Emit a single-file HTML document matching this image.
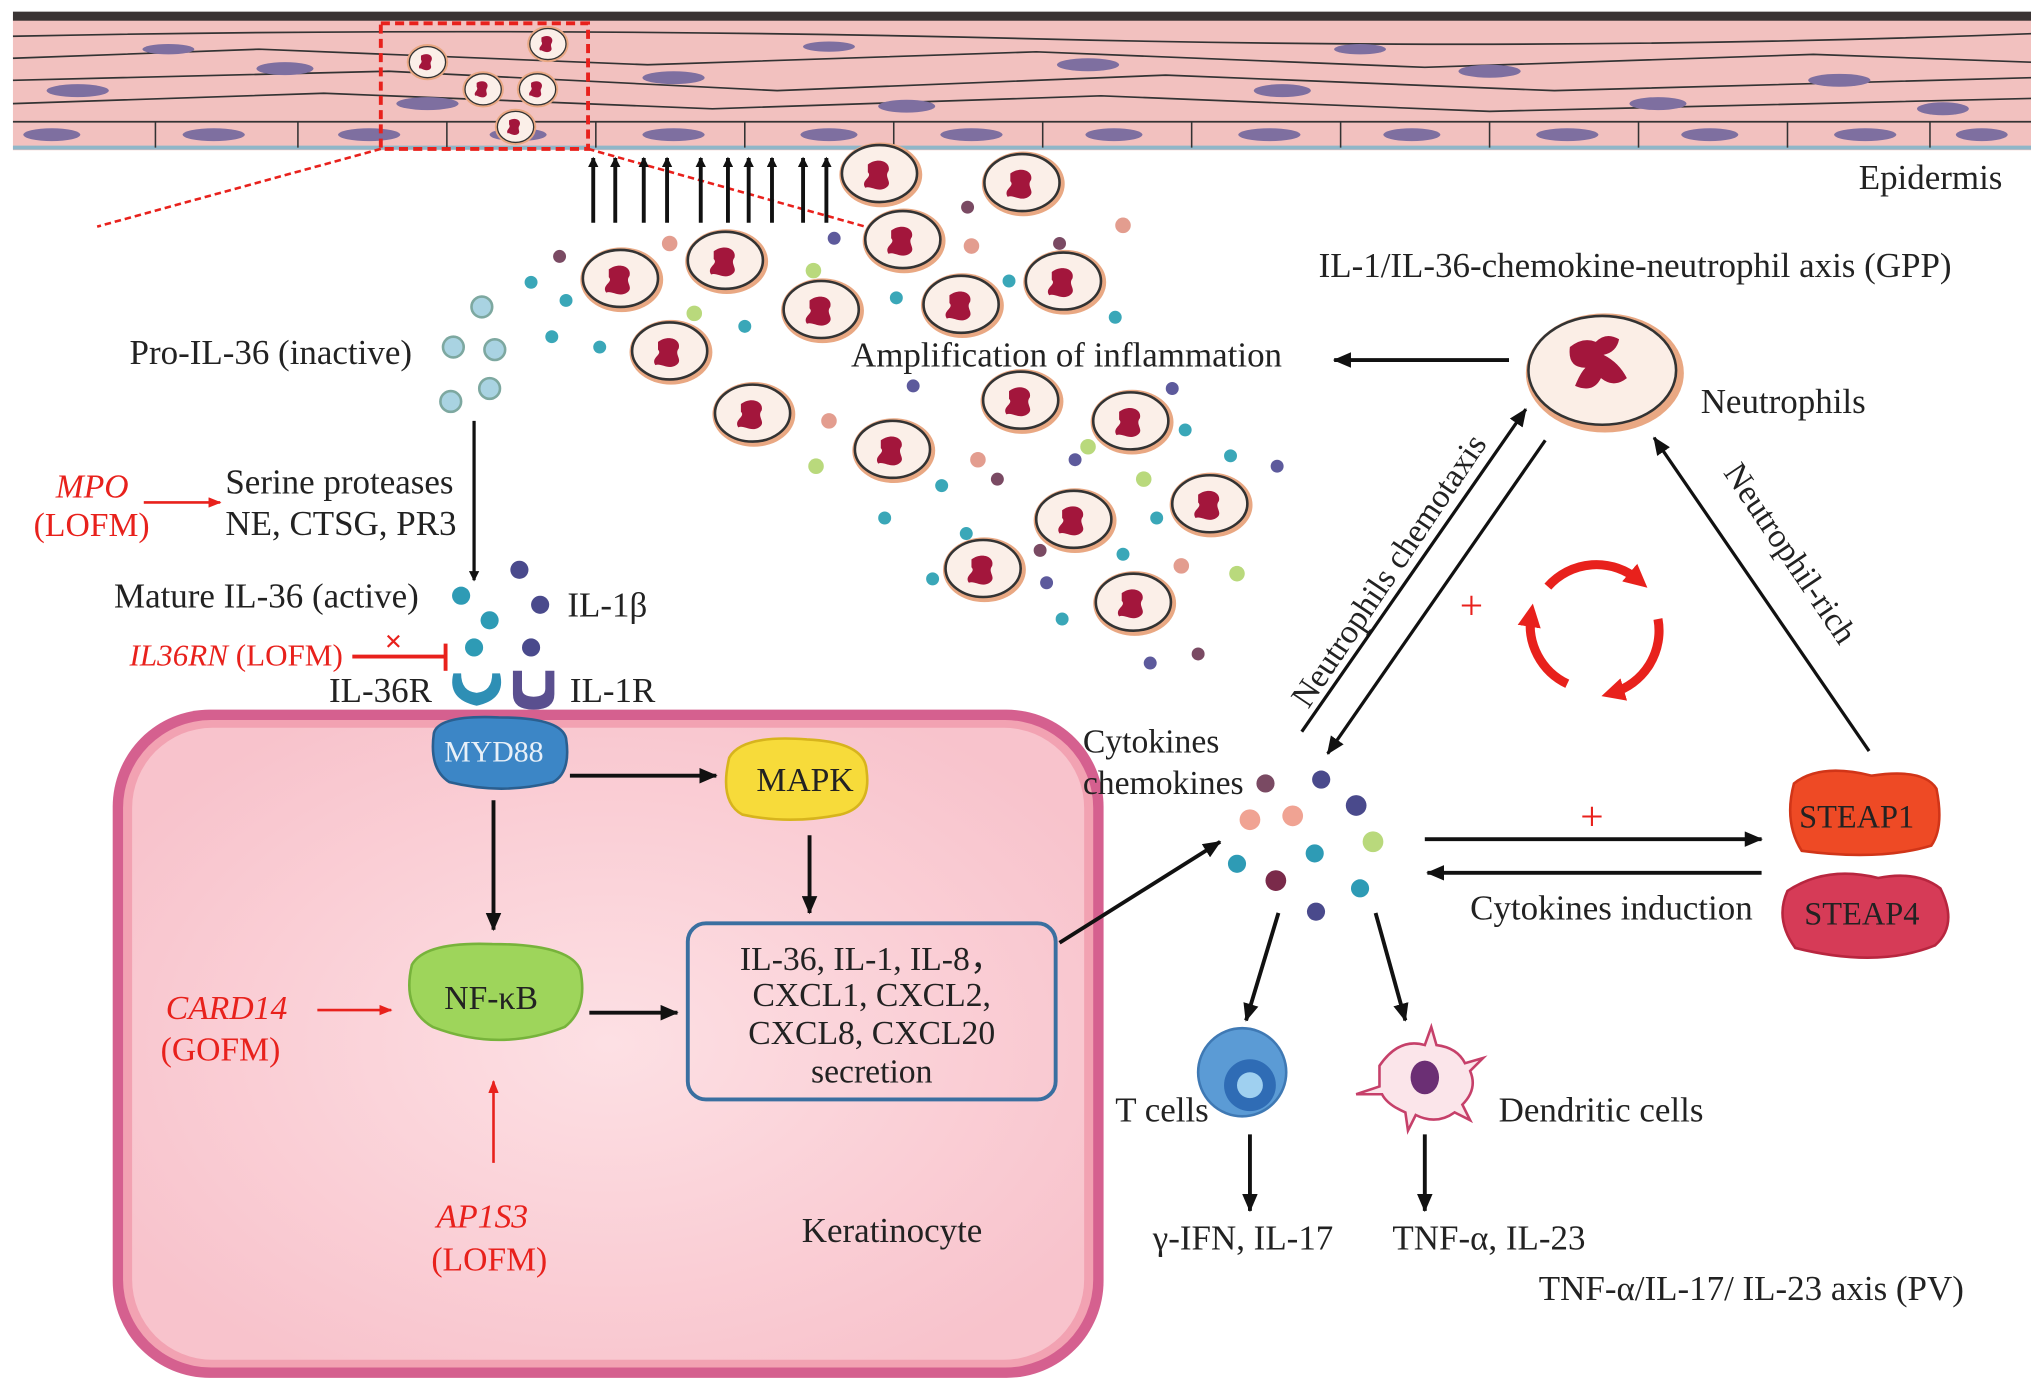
<!DOCTYPE html>
<html><head><meta charset="utf-8"><style>
html,body{margin:0;padding:0;background:#fff;}
svg{display:block;}
text{font-family:"Liberation Serif",serif;fill:#222;}
.r{fill:#e8211c;}
</style></head><body>
<svg width="2031" height="1396" viewBox="0 0 1568 1078" preserveAspectRatio="none" xmlns="http://www.w3.org/2000/svg">
<defs>
<marker id="ah" markerWidth="8" markerHeight="8" refX="7" refY="4" orient="auto" markerUnits="userSpaceOnUse"><path d="M0,0 L8,4 L0,8 z" fill="#111"/></marker>
<marker id="ahb" markerWidth="14" markerHeight="12" refX="13" refY="6" orient="auto" markerUnits="userSpaceOnUse"><path d="M0,0 L14,6 L0,12 z" fill="#111"/></marker>
<marker id="ahr" markerWidth="10" markerHeight="8" refX="9" refY="4" orient="auto" markerUnits="userSpaceOnUse"><path d="M0,0 L10,4 L0,8 z" fill="#e8211c"/></marker>
<marker id="ahr2" markerWidth="18" markerHeight="18" refX="9" refY="9" orient="auto" markerUnits="userSpaceOnUse"><path d="M0,0 L18,9 L0,18 z" fill="#e8211c"/></marker>
<g id="neu"><ellipse cx="0" cy="0" rx="32" ry="25" fill="#e9a883"/><ellipse cx="-1" cy="-1" rx="29" ry="22" fill="#fbefe8" stroke="#333" stroke-width="2"/><path d="M-10,-8 C-2,-14 8,-10 6,-3 C2,2 10,6 4,10 C-2,14 -8,8 -12,10 C-16,4 -6,2 -10,-2 Z" fill="#a3163c"/></g>
<g id="neus"><ellipse cx="0" cy="0" rx="16" ry="14" fill="#e9a883"/><ellipse cx="0" cy="0" rx="14" ry="12" fill="#fbefe8" stroke="#333" stroke-width="1"/><path d="M-5,-5 C0,-8 5,-5 3,-1 C1,2 5,4 1,6 C-3,7 -5,4 -6,5 C-8,2 -3,1 -5,-2 Z" fill="#a3163c"/></g>
<radialGradient id="gk" cx="50%" cy="50%" r="60%"><stop offset="0" stop-color="#fde0e4"/><stop offset="1" stop-color="#f8c3cc"/></radialGradient>
</defs>

<rect x="10" y="12" width="1558" height="104" fill="#f2c1bf"/>
<rect x="10" y="9" width="1558" height="7" fill="#3a3434"/>
<g stroke="#333" stroke-width="1.3" fill="none">
<path d="M10,28 Q400,20 800,30 T1568,26"/>
<path d="M10,45 L200,38 L500,50 L800,40 L1100,52 L1400,42 L1568,48"/>
<path d="M10,62 L300,55 L600,70 L900,58 L1200,70 L1568,60"/>
<path d="M10,80 L250,72 L550,84 L850,74 L1150,86 L1568,76"/>
<path d="M10,94 L1568,94"/>
<path d="M10,114 L1568,114" stroke="#8fb6c8" stroke-width="3"/>
</g>
<g stroke="#333" stroke-width="1.2">
<line x1="120" y1="94" x2="120" y2="114"/><line x1="230" y1="94" x2="230" y2="114"/><line x1="345" y1="94" x2="345" y2="114"/><line x1="460" y1="94" x2="460" y2="114"/><line x1="575" y1="94" x2="575" y2="114"/><line x1="690" y1="94" x2="690" y2="114"/><line x1="805" y1="94" x2="805" y2="114"/><line x1="920" y1="94" x2="920" y2="114"/><line x1="1035" y1="94" x2="1035" y2="114"/><line x1="1150" y1="94" x2="1150" y2="114"/><line x1="1265" y1="94" x2="1265" y2="114"/><line x1="1380" y1="94" x2="1380" y2="114"/><line x1="1490" y1="94" x2="1490" y2="114"/>
</g>
<g fill="#7e6fa0">
<ellipse cx="40" cy="104" rx="22" ry="5"/><ellipse cx="165" cy="104" rx="24" ry="5"/><ellipse cx="285" cy="104" rx="24" ry="5"/><ellipse cx="400" cy="104" rx="22" ry="5"/><ellipse cx="520" cy="104" rx="24" ry="5"/><ellipse cx="640" cy="104" rx="22" ry="5"/><ellipse cx="750" cy="104" rx="24" ry="5"/><ellipse cx="860" cy="104" rx="22" ry="5"/><ellipse cx="980" cy="104" rx="24" ry="5"/><ellipse cx="1090" cy="104" rx="22" ry="5"/><ellipse cx="1210" cy="104" rx="24" ry="5"/><ellipse cx="1320" cy="104" rx="22" ry="5"/><ellipse cx="1440" cy="104" rx="24" ry="5"/><ellipse cx="1530" cy="104" rx="20" ry="5"/>
<ellipse cx="60" cy="70" rx="24" ry="5"/><ellipse cx="220" cy="53" rx="22" ry="5"/><ellipse cx="330" cy="80" rx="24" ry="5"/><ellipse cx="520" cy="60" rx="24" ry="5"/><ellipse cx="700" cy="82" rx="22" ry="5"/><ellipse cx="840" cy="50" rx="24" ry="5"/><ellipse cx="990" cy="70" rx="22" ry="5"/><ellipse cx="1150" cy="55" rx="24" ry="5"/><ellipse cx="1280" cy="80" rx="22" ry="5"/><ellipse cx="1420" cy="62" rx="24" ry="5"/><ellipse cx="130" cy="38" rx="20" ry="4"/><ellipse cx="640" cy="36" rx="20" ry="4"/><ellipse cx="1050" cy="38" rx="20" ry="4"/><ellipse cx="1500" cy="84" rx="20" ry="5"/>
</g>
<rect x="294" y="18" width="160" height="97" fill="none" stroke="#e8211c" stroke-width="3" stroke-dasharray="7,4"/>
<use href="#neus" x="330" y="48"/><use href="#neus" x="423" y="34"/><use href="#neus" x="373" y="69"/><use href="#neus" x="415" y="69"/><use href="#neus" x="398" y="98"/>
<line x1="294" y1="115" x2="75" y2="175" stroke="#e8211c" stroke-width="2" stroke-dasharray="5,3"/>
<line x1="454" y1="115" x2="668" y2="175" stroke="#e8211c" stroke-width="2" stroke-dasharray="5,3"/>
<text x="1435" y="146" font-size="27">Epidermis</text>

<g stroke="#111" stroke-width="3" marker-end="url(#ah)">
<line x1="458" y1="172" x2="458" y2="122"/><line x1="475" y1="172" x2="475" y2="122"/><line x1="497" y1="172" x2="497" y2="122"/><line x1="515" y1="172" x2="515" y2="122"/><line x1="541" y1="172" x2="541" y2="122"/><line x1="562" y1="172" x2="562" y2="122"/><line x1="578" y1="172" x2="578" y2="122"/><line x1="596" y1="172" x2="596" y2="122"/><line x1="620" y1="172" x2="620" y2="122"/><line x1="638" y1="172" x2="638" y2="122"/>
</g>

<use href="#neu" x="680" y="135"/><use href="#neu" x="790" y="142"/><use href="#neu" x="698" y="186"/><use href="#neu" x="480" y="216"/><use href="#neu" x="561" y="202"/><use href="#neu" x="635" y="240"/><use href="#neu" x="743" y="236"/><use href="#neu" x="822" y="218"/><use href="#neu" x="518" y="272"/><use href="#neu" x="582" y="320"/><use href="#neu" x="690" y="348"/><use href="#neu" x="789" y="310"/><use href="#neu" x="874" y="326"/><use href="#neu" x="935" y="390"/><use href="#neu" x="830" y="402"/><use href="#neu" x="760" y="440"/><use href="#neu" x="876" y="466"/>

<g>
<circle cx="432" cy="198" r="5" fill="#7a4a63"/><circle cx="410" cy="218" r="5" fill="#3aa7b8"/><circle cx="437" cy="232" r="5" fill="#3aa7b8"/><circle cx="426" cy="260" r="5" fill="#3aa7b8"/><circle cx="463" cy="268" r="5" fill="#3aa7b8"/><circle cx="517" cy="188" r="6" fill="#e39d8f"/><circle cx="536" cy="242" r="6" fill="#b9d97c"/><circle cx="575" cy="252" r="5" fill="#3aa7b8"/><circle cx="628" cy="209" r="6" fill="#b9d97c"/><circle cx="644" cy="184" r="5" fill="#5d5a9c"/><circle cx="692" cy="230" r="5" fill="#3aa7b8"/><circle cx="747" cy="160" r="5" fill="#7a4a63"/><circle cx="750" cy="190" r="6" fill="#e39d8f"/><circle cx="779" cy="217" r="5" fill="#3aa7b8"/><circle cx="818" cy="188" r="5" fill="#7a4a63"/><circle cx="867" cy="174" r="6" fill="#e39d8f"/><circle cx="861" cy="245" r="5" fill="#3aa7b8"/><circle cx="705" cy="298" r="5" fill="#5d5a9c"/><circle cx="640" cy="325" r="6" fill="#e39d8f"/><circle cx="630" cy="360" r="6" fill="#b9d97c"/><circle cx="727" cy="375" r="5" fill="#3aa7b8"/><circle cx="755" cy="355" r="6" fill="#e39d8f"/><circle cx="770" cy="370" r="5" fill="#7a4a63"/><circle cx="683" cy="400" r="5" fill="#3aa7b8"/><circle cx="746" cy="412" r="5" fill="#3aa7b8"/><circle cx="720" cy="447" r="5" fill="#3aa7b8"/><circle cx="830" cy="355" r="5" fill="#5d5a9c"/><circle cx="840" cy="345" r="6" fill="#b9d97c"/><circle cx="905" cy="300" r="5" fill="#5d5a9c"/><circle cx="883" cy="370" r="6" fill="#b9d97c"/><circle cx="915" cy="332" r="5" fill="#3aa7b8"/><circle cx="950" cy="352" r="5" fill="#3aa7b8"/><circle cx="986" cy="360" r="5" fill="#5d5a9c"/><circle cx="893" cy="400" r="5" fill="#3aa7b8"/><circle cx="912" cy="437" r="6" fill="#e39d8f"/><circle cx="955" cy="443" r="6" fill="#b9d97c"/><circle cx="867" cy="428" r="5" fill="#3aa7b8"/><circle cx="808" cy="450" r="5" fill="#5d5a9c"/><circle cx="820" cy="478" r="5" fill="#3aa7b8"/><circle cx="888" cy="512" r="5" fill="#5d5a9c"/><circle cx="925" cy="505" r="5" fill="#7a4a63"/><circle cx="803" cy="425" r="5" fill="#7a4a63"/>
</g>

<g fill="#a9d3e2" stroke="#7da8a0" stroke-width="2">
<circle cx="372" cy="237" r="8"/><circle cx="350" cy="268" r="8"/><circle cx="382" cy="270" r="8"/><circle cx="378" cy="300" r="8"/><circle cx="348" cy="310" r="8"/>
</g>
<text x="100" y="281" font-size="27">Pro-IL-36 (inactive)</text>
<line x1="366" y1="325" x2="366" y2="448" stroke="#111" stroke-width="2.5" marker-end="url(#ah)"/>
<text x="43" y="384" font-size="26" font-style="italic" class="r">MPO</text>
<text x="26" y="414" font-size="26" class="r">(LOFM)</text>
<line x1="111" y1="388" x2="170" y2="388" stroke="#e8211c" stroke-width="2" marker-end="url(#ahr)"/>
<text x="174" y="381" font-size="27">Serine proteases</text>
<text x="174" y="413" font-size="27">NE, CTSG, PR3</text>
<text x="88" y="469" font-size="27">Mature IL-36 (active)</text>
<circle cx="356" cy="460" r="7" fill="#2e9bb5"/><circle cx="378" cy="479" r="7" fill="#2e9bb5"/><circle cx="366" cy="500" r="7" fill="#2e9bb5"/>
<circle cx="401" cy="440" r="7" fill="#4a4a8c"/><circle cx="417" cy="467" r="7" fill="#4a4a8c"/><circle cx="410" cy="500" r="7" fill="#4a4a8c"/>
<text x="438" y="476" font-size="27">IL-1β</text>
<text x="100" y="514" font-size="24" class="r"><tspan font-style="italic">IL36RN</tspan> (LOFM)</text>
<line x1="272" y1="507" x2="343" y2="507" stroke="#e8211c" stroke-width="3"/>
<line x1="344" y1="497" x2="344" y2="518" stroke="#e8211c" stroke-width="3"/>
<text x="297" y="503" font-size="24" class="r" font-weight="bold">×</text>

<rect x="87" y="548" width="765" height="516" rx="75" fill="#d5608f"/>
<rect x="95" y="556" width="749" height="500" rx="68" fill="#f2a2b2"/>
<rect x="102" y="562" width="735" height="488" rx="62" fill="url(#gk)"/>

<path d="M350,520 q-5,20 18,25 q23,-5 18,-25 l-6,0 q0,14 -12,15 q-12,-1 -12,-15 z" fill="#2e8fb5"/>
<path d="M396,518 l0,18 q0,12 16,12 q16,0 16,-12 l0,-18 l-7,0 l0,14 q0,6 -9,6 q-9,0 -9,-6 l0,-14 z" fill="#5a4f8f"/>
<text x="254" y="542" font-size="27">IL-36R</text>
<text x="440" y="542" font-size="27">IL-1R</text>
<path d="M335,566 q4,-14 50,-12 q48,0 52,16 q4,26 -10,34 q-40,10 -80,0 q-16,-10 -12,-38 z" fill="#3c86c6" stroke="#2a5f90" stroke-width="2"/>
<text x="343" y="588" font-size="23" style="fill:#e8f0f8">MYD88</text>
<line x1="440" y1="599" x2="553" y2="599" stroke="#111" stroke-width="3" marker-end="url(#ahb)"/>
<path d="M563,585 q10,-18 60,-14 q45,2 46,24 q4,28 -20,34 q-40,8 -76,0 q-18,-10 -10,-44 z" fill="#f7db3a" stroke="#d7b41d" stroke-width="2"/>
<text x="584" y="611" font-size="26">MAPK</text>
<line x1="625" y1="645" x2="625" y2="705" stroke="#111" stroke-width="3" marker-end="url(#ahb)"/>
<line x1="381" y1="618" x2="381" y2="718" stroke="#111" stroke-width="3" marker-end="url(#ahb)"/>
<path d="M318,745 q10,-18 62,-16 q60,0 68,20 q6,30 -12,44 q-50,20 -102,0 q-24,-14 -16,-48 z" fill="#9ed55b" stroke="#77b33b" stroke-width="2"/>
<text x="343" y="779" font-size="26">NF-κB</text>
<line x1="455" y1="782" x2="523" y2="782" stroke="#111" stroke-width="3" marker-end="url(#ahb)"/>
<rect x="531" y="713" width="284" height="136" rx="14" fill="none" stroke="#3a6fa0" stroke-width="3"/>
<text x="673" y="749" font-size="26" text-anchor="middle">IL-36, IL-1, IL-8，</text>
<text x="673" y="777" font-size="26" text-anchor="middle">CXCL1, CXCL2,</text>
<text x="673" y="806" font-size="26" text-anchor="middle">CXCL8, CXCL20</text>
<text x="673" y="836" font-size="26" text-anchor="middle">secretion</text>
<text x="128" y="787" font-size="26" font-style="italic" class="r">CARD14</text>
<text x="124" y="819" font-size="26" class="r">(GOFM)</text>
<line x1="245" y1="780" x2="302" y2="780" stroke="#e8211c" stroke-width="2" marker-end="url(#ahr)"/>
<line x1="381" y1="898" x2="381" y2="835" stroke="#e8211c" stroke-width="2" marker-end="url(#ahr)"/>
<text x="337" y="948" font-size="26" font-style="italic" class="r">AP1S3</text>
<text x="333" y="981" font-size="26" class="r">(LOFM)</text>
<text x="619" y="959" font-size="27">Keratinocyte</text>

<text x="657" y="283" font-size="27">Amplification of inflammation</text>
<line x1="1165" y1="278" x2="1030" y2="278" stroke="#111" stroke-width="3" marker-end="url(#ahb)"/>
<text x="1018" y="214" font-size="27">IL-1/IL-36-chemokine-neutrophil axis (GPP)</text>
<ellipse cx="1239" cy="288" rx="61" ry="46" fill="#e9a883"/>
<ellipse cx="1237" cy="286" rx="57" ry="42" fill="#fbeee6" stroke="#333" stroke-width="2"/>
<path d="M1212,268 q10,-8 20,-4 q8,-8 18,-2 q-2,10 -12,12 q12,6 18,18 q-10,8 -20,0 q-6,12 -20,6 q4,-10 8,-14 q-14,0 -12,-16 z" fill="#a3163c"/>
<text x="1313" y="319" font-size="27">Neutrophils</text>
<line x1="1005" y1="565" x2="1178" y2="316" stroke="#111" stroke-width="2.5" marker-end="url(#ahb)"/>
<line x1="1193" y1="340" x2="1025" y2="582" stroke="#111" stroke-width="2.5" marker-end="url(#ahb)"/>
<text transform="translate(1010,548) rotate(-56)" font-size="26">Neutrophils chemotaxis</text>
<line x1="1443" y1="580" x2="1277" y2="338" stroke="#111" stroke-width="2.5" marker-end="url(#ahb)"/>
<text transform="translate(1330,365) rotate(56)" font-size="26">Neutrophil-rich</text>
<text x="1127" y="478" font-size="32" class="r">+</text>
<path d="M1195,453 A50,50 0 0 1 1265,448" fill="none" stroke="#e8211c" stroke-width="7" marker-end="url(#ahr2)"/>
<path d="M1280,478 A50,50 0 0 1 1245,535" fill="none" stroke="#e8211c" stroke-width="7" marker-end="url(#ahr2)"/>
<path d="M1210,528 A50,50 0 0 1 1182,475" fill="none" stroke="#e8211c" stroke-width="7" marker-end="url(#ahr2)"/>

<text x="836" y="581" font-size="26">Cytokines</text>
<text x="836" y="613" font-size="26">chemokines</text>
<g>
<circle cx="977" cy="605" r="7" fill="#7a4a63"/><circle cx="1020" cy="602" r="7" fill="#4a4a8c"/><circle cx="965" cy="633" r="8" fill="#f0a393"/><circle cx="998" cy="630" r="8" fill="#f0a393"/><circle cx="1047" cy="622" r="8" fill="#4a4a8c"/><circle cx="1060" cy="650" r="8" fill="#b9d97c"/><circle cx="1015" cy="659" r="7" fill="#2e9bb5"/><circle cx="955" cy="667" r="7" fill="#2e9bb5"/><circle cx="985" cy="680" r="8" fill="#7a2a4a"/><circle cx="1050" cy="686" r="7" fill="#2e9bb5"/><circle cx="1016" cy="704" r="7" fill="#4a4a8c"/>
</g>
<line x1="818" y1="728" x2="942" y2="650" stroke="#111" stroke-width="3" marker-end="url(#ahb)"/>
<line x1="1100" y1="648" x2="1360" y2="648" stroke="#111" stroke-width="3" marker-end="url(#ahb)"/>
<text x="1220" y="641" font-size="32" class="r">+</text>
<line x1="1360" y1="674" x2="1102" y2="674" stroke="#111" stroke-width="3" marker-end="url(#ahb)"/>
<text x="1135" y="710" font-size="27">Cytokines induction</text>
<path d="M1385,605 q20,-16 60,-6 q40,-6 50,10 q6,30 -4,44 q-40,12 -100,4 q-14,-22 -6,-52 z" fill="#ee4a25" stroke="#d13518" stroke-width="2"/>
<text x="1389" y="639" font-size="25">STEAP1</text>
<path d="M1380,688 q30,-20 70,-10 q30,-6 48,8 q14,28 -4,44 q-44,18 -108,2 q-16,-22 -6,-44 z" fill="#d63b57" stroke="#b8263f" stroke-width="2"/>
<text x="1393" y="714" font-size="25">STEAP4</text>

<line x1="987" y1="705" x2="962" y2="788" stroke="#111" stroke-width="3" marker-end="url(#ahb)"/>
<line x1="1062" y1="705" x2="1085" y2="788" stroke="#111" stroke-width="3" marker-end="url(#ahb)"/>
<circle cx="959" cy="828" r="34" fill="#5b9bd5" stroke="#3f79b4" stroke-width="2"/>
<circle cx="965" cy="838" r="20" fill="#2f6cb5"/><circle cx="965" cy="838" r="10" fill="#9fd0f0"/>
<text x="861" y="866" font-size="27">T cells</text>
<path d="M1065,823 q15,-22 35,-16 l5,-14 l4,14 q16,2 22,14 l14,-4 l-10,10 q6,14 -6,26 l6,12 l-12,-6 q-14,10 -30,2 l-6,12 l-2,-14 q-14,-6 -18,-14 l-20,0 l18,-6 z" fill="#fbe5ea" stroke="#c6406a" stroke-width="2"/>
<ellipse cx="1100" cy="832" rx="11" ry="13" fill="#6b2f74"/>
<text x="1157" y="866" font-size="27">Dendritic cells</text>
<line x1="965" y1="876" x2="965" y2="935" stroke="#111" stroke-width="3" marker-end="url(#ahb)"/>
<line x1="1100" y1="876" x2="1100" y2="935" stroke="#111" stroke-width="3" marker-end="url(#ahb)"/>
<text x="890" y="965" font-size="27">γ-IFN, IL-17</text>
<text x="1075" y="965" font-size="27">TNF-α, IL-23</text>
<text x="1188" y="1004" font-size="27">TNF-α/IL-17/ IL-23 axis (PV)</text>
</svg>
</body></html>
